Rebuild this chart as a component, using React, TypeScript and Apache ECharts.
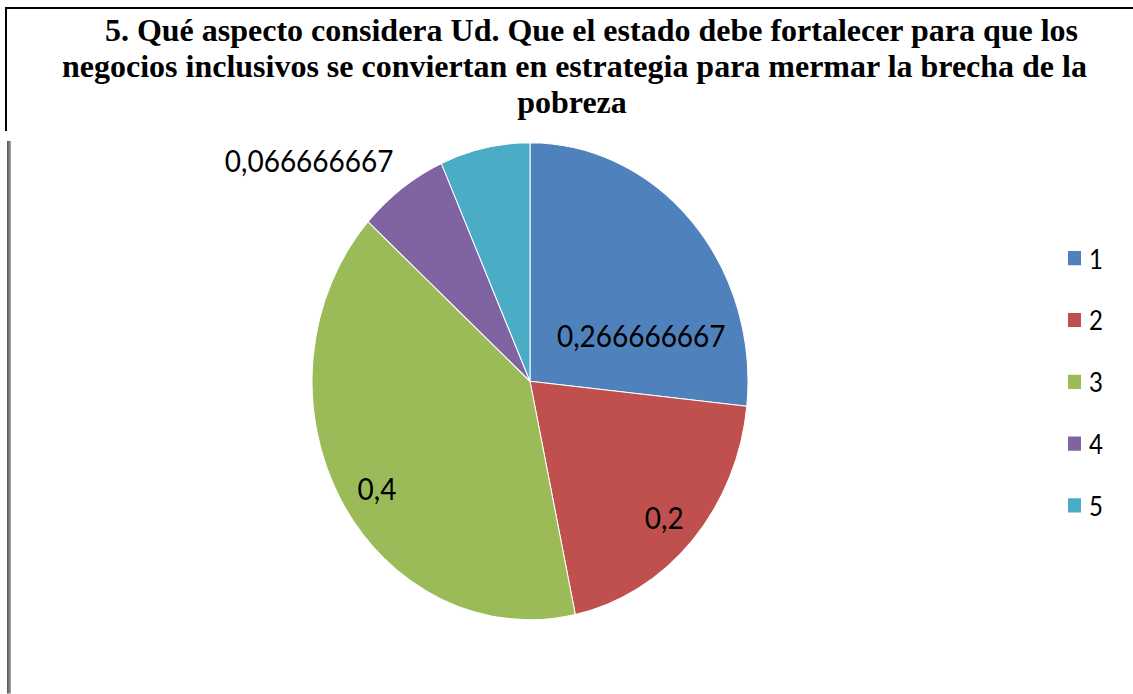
import React, { useEffect, useRef } from "react";
import * as echarts from "echarts";

const TITLE_LINES = [
  "5. Qué aspecto considera Ud. Que el estado debe fortalecer para que los",
  "negocios inclusivos se conviertan en estrategia para mermar la brecha de la",
  "pobreza",
];
const CATEGORIES = ["1", "2", "3", "4", "5"];
const VALUES = [0.266666667, 0.2, 0.4, 0.066666667, 0.066666667];
const SHOW_LABEL = [true, true, true, true, false];
const COLORS = ["#4F81BD", "#C0504D", "#9BBB59", "#8064A2", "#4BACC6"];

// the reference picture is stretched vertically
const STRETCH = 1.094;
const W = 1133;
const H = 694;

// label nudges (px) relative to the default "inside" position
const LABEL_OFFSETS: [number, number][] = [
  [28, 33],
  [51, 49],
  [-56, 42],
  [-155, -112],
  [0, 0],
];

const TITLE_X = [591.5, 574.5, 572];
const TITLE_Y = [29.9, 65.9, 101.9]; // visual (stretched) pixel positions

export default function App() {
  const ref = useRef<HTMLDivElement>(null);
  useEffect(() => {
    if (!ref.current) return;
    const chart = echarts.init(ref.current, null, { renderer: "svg" });
    const titleFont = '"Liberation Serif", "Times New Roman", serif';
    const labelFont = 'Lato, "Liberation Sans", sans-serif';
    chart.setOption({
      animation: false,
      backgroundColor: "#ffffff",
      legend: {
        orient: "vertical",
        left: 1066,
        top: 223,
        padding: 0,
        icon: "rect",
        itemWidth: 15,
        itemHeight: 15,
        itemGap: 30.5,
        data: CATEGORIES,
        selectedMode: false,
        textStyle: {
          fontFamily: labelFont,
          fontSize: 24,
          lineHeight: 26,
          color: "#000",
          padding: [0, 0, 0, 2],
        },
      },
      graphic: [
        ...TITLE_LINES.map((t, i) => ({
          type: "text",
          x: TITLE_X[i],
          y: TITLE_Y[i] / STRETCH,
          scaleY: 1 / STRETCH,
          style: {
            text: t,
            fontFamily: titleFont,
            fontWeight: "bold",
            fontSize: 32,
            fill: "#000",
            align: "center",
            verticalAlign: "middle",
          },
        })),
        {
          type: "line",
          shape: { x1: 5, y1: 8 / STRETCH, x2: W, y2: 8 / STRETCH },
          style: { stroke: "#000", lineWidth: 2 },
        },
        {
          type: "line",
          shape: { x1: 6, y1: 7 / STRETCH, x2: 6, y2: 131 / STRETCH },
          style: { stroke: "#000", lineWidth: 2 },
        },
        {
          type: "rect",
          shape: { x: 7, y: 141 / STRETCH, width: 4, height: (H - 141) / STRETCH },
          style: {
            fill: new echarts.graphic.LinearGradient(0, 0, 1, 0, [
              { offset: 0, color: "#555" },
              { offset: 0.5, color: "#777" },
              { offset: 1, color: "#aaa" },
            ]),
          },
        },
      ],
      series: [
        {
          type: "pie",
          center: [530, 348.5],
          radius: 218,
          startAngle: 90,
          clockwise: true,
          avoidLabelOverlap: false,
          labelLine: { show: false },
          itemStyle: { borderColor: "#ffffff", borderWidth: 1 },
          emphasis: { disabled: true },
          label: {
            show: true,
            position: "inside",
            fontFamily: labelFont,
            fontSize: 28,
            color: "#000",
            formatter: (p: any) => String(p.value).replace(".", ","),
          },
          data: CATEGORIES.map((c, i) => ({
            name: c,
            value: VALUES[i],
            itemStyle: { color: COLORS[i] },
            label: { show: SHOW_LABEL[i], offset: LABEL_OFFSETS[i] },
          })),
        },
      ],
    });
    return () => chart.dispose();
  }, []);
  return (
    <div
      style={{ position: "absolute", left: 0, top: 0, width: W, height: H, overflow: "hidden", background: "#fff" }}
    >
      <div
        ref={ref}
        style={{
          width: W,
          height: H / STRETCH,
          transform: `scaleY(${STRETCH})`,
          transformOrigin: "0 0",
        }}
      />
    </div>
  );
}
